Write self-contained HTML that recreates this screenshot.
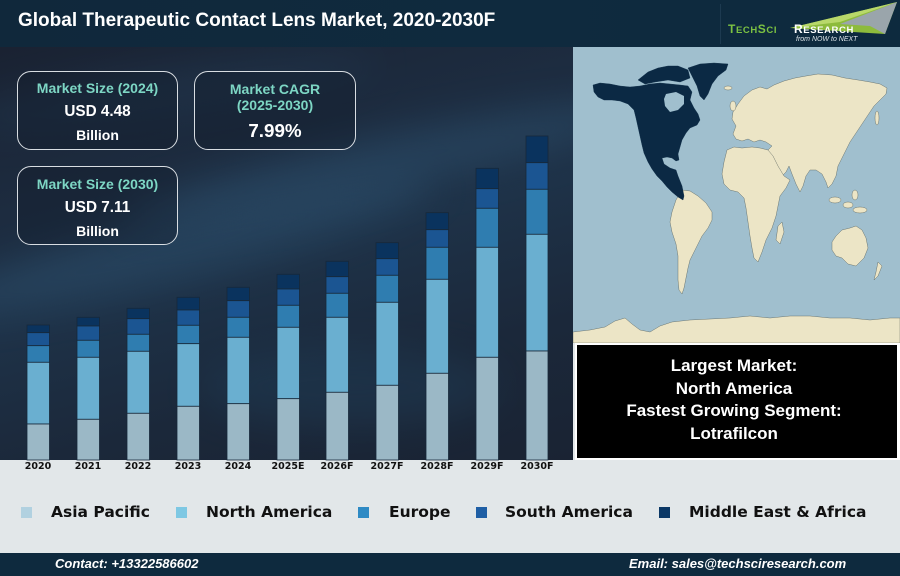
<!DOCTYPE html>
<html><head><meta charset="utf-8"><style>
*{margin:0;padding:0;box-sizing:border-box}
body{width:900px;height:576px;overflow:hidden;position:relative;background:#e2e7e9;font-family:"Liberation Sans",Arial,sans-serif}
.hdr{position:absolute;left:0;top:0;width:900px;height:47px;background:linear-gradient(90deg,#10283b,#0f2a3e 60%,#0d2a3e)}
.title{position:absolute;left:18px;top:10px;color:#fff;font-weight:bold;font-size:19px;white-space:nowrap}
.chart{position:absolute;left:0;top:47px;width:573px;height:413px;overflow:hidden;background:linear-gradient(165deg,#1a2232 0%,#1d2c40 30%,#1e3248 50%,#1b283a 75%,#1a2333 100%)}
.streak{position:absolute;border-radius:50%;filter:blur(18px)}
.box{position:absolute;border:1.5px solid #d8dde2;border-radius:14px;background:rgba(18,26,40,0.35);text-align:center;color:#fff;font-weight:bold}
.teal{color:#7dd6c4;font-size:14px}
.map{position:absolute;left:573px;top:47px;width:327px;height:296px}
.bbox{position:absolute;left:575px;top:343px;width:325px;height:117px;border:2.5px solid #fff;border-right-width:3px;background:#000;color:#fff;font-weight:bold;font-size:17px;text-align:center;line-height:22.7px;padding-top:10px;padding-right:6px}
.ticks{position:absolute;top:461px;font-family:"DejaVu Sans",sans-serif;font-weight:bold;font-size:9.5px;color:#111;width:50px;text-align:center;margin-left:-25px}
.leg{position:absolute;top:503px;font-family:"DejaVu Sans",sans-serif;font-weight:bold;font-size:15.5px;color:#111;white-space:nowrap}
.sq{position:absolute;top:507px;width:11px;height:11px}
.ftr{position:absolute;left:0;top:553px;width:900px;height:23px;background:#0e2a3e}
.ft{position:absolute;top:556px;color:#fff;font-weight:bold;font-style:italic;font-size:13px;white-space:nowrap}
</style></head><body>
<div class="hdr"></div>
<div class="title">Global Therapeutic Contact Lens Market, 2020-2030F</div>
<div style="position:absolute;left:720px;top:4px;width:1px;height:40px;background:#1d3a50"></div>
<svg style="position:absolute;left:720px;top:0" width="180" height="47">
<polygon points="70,28 177,2 165,34" fill="#8dbb3c"/>
<polygon points="70,28 177,2 120,22" fill="#b8d86a"/>
<polygon points="120,24 177,2 165,34 150,26" fill="#9aa5ab"/>
<text x="8" y="33" font-family="Liberation Sans,sans-serif" font-weight="bold" font-size="12" fill="#7cc242" letter-spacing="0.6">T<tspan font-size="9.5">ECH</tspan>S<tspan font-size="9.5">CI</tspan></text>
<text x="74" y="33" font-family="Liberation Sans,sans-serif" font-weight="bold" font-size="12" fill="#fff" letter-spacing="0.6">R<tspan font-size="9.5">ESEARCH</tspan></text>
<text x="76" y="41" font-family="Liberation Sans,sans-serif" font-style="italic" font-size="7" fill="#dfe6ea">from NOW to NEXT</text>
</svg>

<div class="chart">
  <div class="streak" style="left:-80px;top:170px;width:520px;height:60px;background:#2b4d6a;opacity:.6;transform:rotate(-14deg)"></div>
  <div class="streak" style="left:120px;top:90px;width:520px;height:55px;background:#2c4e6b;opacity:.55;transform:rotate(-12deg)"></div>
  <div class="streak" style="left:-40px;top:20px;width:420px;height:50px;background:#24405a;opacity:.35;transform:rotate(-8deg)"></div>
  <div class="streak" style="left:200px;top:300px;width:300px;height:80px;background:#20405a;opacity:.4"></div>
</div>

<div class="box" style="left:17px;top:71px;width:161px;height:79px">
  <div class="teal" style="position:absolute;left:0;right:0;top:8px">Market Size (2024)</div>
  <div style="position:absolute;left:0;right:0;top:31px;font-size:15.3px">USD 4.48</div>
  <div style="position:absolute;left:0;right:0;top:55px;font-size:14px">Billion</div>
</div>
<div class="box" style="left:194px;top:71px;width:162px;height:79px">
  <div class="teal" style="position:absolute;left:0;right:0;top:9px;line-height:16px">Market CAGR<br>(2025-2030)</div>
  <div style="position:absolute;left:0;right:0;top:48px;font-size:18.8px">7.99%</div>
</div>
<div class="box" style="left:17px;top:166px;width:161px;height:79px">
  <div class="teal" style="position:absolute;left:0;right:0;top:9px">Market Size (2030)</div>
  <div style="position:absolute;left:0;right:0;top:32px;font-size:15.3px">USD 7.11</div>
  <div style="position:absolute;left:0;right:0;top:56px;font-size:14px">Billion</div>
</div>

<svg style="position:absolute;left:0;top:0" width="573" height="463">
<g stroke="#17283a" stroke-width="0.8">
<rect x="27" y="325" width="22.5" height="7.7" fill="#0a335e"/><rect x="27" y="332.7" width="22.5" height="13" fill="#1b5592"/><rect x="27" y="345.7" width="22.5" height="16.6" fill="#2f7db0"/><rect x="27" y="362.3" width="22.5" height="61.7" fill="#6aafd0"/><rect x="27" y="424" width="22.5" height="36" fill="#9bb8c6"/>
<rect x="77" y="317.3" width="22.5" height="8.7" fill="#0a335e"/><rect x="77" y="326" width="22.5" height="14.3" fill="#1b5592"/><rect x="77" y="340.3" width="22.5" height="17" fill="#2f7db0"/><rect x="77" y="357.3" width="22.5" height="62" fill="#6aafd0"/><rect x="77" y="419.3" width="22.5" height="40.7" fill="#9bb8c6"/>
<rect x="127" y="308.3" width="22.5" height="10.4" fill="#0a335e"/><rect x="127" y="318.7" width="22.5" height="15.6" fill="#1b5592"/><rect x="127" y="334.3" width="22.5" height="17" fill="#2f7db0"/><rect x="127" y="351.3" width="22.5" height="62" fill="#6aafd0"/><rect x="127" y="413.3" width="22.5" height="46.7" fill="#9bb8c6"/>
<rect x="177" y="297.3" width="22.5" height="12.7" fill="#0a335e"/><rect x="177" y="310" width="22.5" height="15.3" fill="#1b5592"/><rect x="177" y="325.3" width="22.5" height="18.4" fill="#2f7db0"/><rect x="177" y="343.7" width="22.5" height="62.6" fill="#6aafd0"/><rect x="177" y="406.3" width="22.5" height="53.7" fill="#9bb8c6"/>
<rect x="227" y="287.3" width="22.5" height="13.4" fill="#0a335e"/><rect x="227" y="300.7" width="22.5" height="16.6" fill="#1b5592"/><rect x="227" y="317.3" width="22.5" height="20" fill="#2f7db0"/><rect x="227" y="337.3" width="22.5" height="66.4" fill="#6aafd0"/><rect x="227" y="403.7" width="22.5" height="56.3" fill="#9bb8c6"/>
<rect x="277" y="274.3" width="22.5" height="14.7" fill="#0a335e"/><rect x="277" y="289" width="22.5" height="16.3" fill="#1b5592"/><rect x="277" y="305.3" width="22.5" height="22" fill="#2f7db0"/><rect x="277" y="327.3" width="22.5" height="71.4" fill="#6aafd0"/><rect x="277" y="398.7" width="22.5" height="61.3" fill="#9bb8c6"/>
<rect x="326" y="261.3" width="22.5" height="15.4" fill="#0a335e"/><rect x="326" y="276.7" width="22.5" height="16.6" fill="#1b5592"/><rect x="326" y="293.3" width="22.5" height="24" fill="#2f7db0"/><rect x="326" y="317.3" width="22.5" height="75" fill="#6aafd0"/><rect x="326" y="392.3" width="22.5" height="67.7" fill="#9bb8c6"/>
<rect x="376" y="242.7" width="22.5" height="16" fill="#0a335e"/><rect x="376" y="258.7" width="22.5" height="16.6" fill="#1b5592"/><rect x="376" y="275.3" width="22.5" height="27" fill="#2f7db0"/><rect x="376" y="302.3" width="22.5" height="83" fill="#6aafd0"/><rect x="376" y="385.3" width="22.5" height="74.7" fill="#9bb8c6"/>
<rect x="426" y="212.7" width="22.5" height="17" fill="#0a335e"/><rect x="426" y="229.7" width="22.5" height="17.6" fill="#1b5592"/><rect x="426" y="247.3" width="22.5" height="32" fill="#2f7db0"/><rect x="426" y="279.3" width="22.5" height="94" fill="#6aafd0"/><rect x="426" y="373.3" width="22.5" height="86.7" fill="#9bb8c6"/>
<rect x="476" y="168.3" width="22.5" height="20.4" fill="#0a335e"/><rect x="476" y="188.7" width="22.5" height="19.6" fill="#1b5592"/><rect x="476" y="208.3" width="22.5" height="39" fill="#2f7db0"/><rect x="476" y="247.3" width="22.5" height="110" fill="#6aafd0"/><rect x="476" y="357.3" width="22.5" height="102.7" fill="#9bb8c6"/>
<rect x="526" y="136" width="22" height="26.7" fill="#0a335e"/><rect x="526" y="162.7" width="22" height="26.6" fill="#1b5592"/><rect x="526" y="189.3" width="22" height="45" fill="#2f7db0"/><rect x="526" y="234.3" width="22" height="116.7" fill="#6aafd0"/><rect x="526" y="351" width="22" height="109" fill="#9bb8c6"/>
</g>
<g stroke="#9aa4aa" stroke-width="0.8">
<line x1="38" y1="460" x2="38" y2="462"/><line x1="88" y1="460" x2="88" y2="462"/><line x1="138" y1="460" x2="138" y2="462"/><line x1="188" y1="460" x2="188" y2="462"/><line x1="238" y1="460" x2="238" y2="462"/><line x1="288" y1="460" x2="288" y2="462"/><line x1="337" y1="460" x2="337" y2="462"/><line x1="387" y1="460" x2="387" y2="462"/><line x1="437" y1="460" x2="437" y2="462"/><line x1="487" y1="460" x2="487" y2="462"/><line x1="537" y1="460" x2="537" y2="462"/>
</g>
</svg>

<svg class="map" viewBox="573 47 327 296" width="327" height="296">
<rect x="573" y="47" width="327" height="296" fill="#a0bfce"/>
<g fill="#ece5c6" stroke="#55605a" stroke-width="0.4">
<polygon points="733,112 738,104 744,96 752,90 760,87 767,89 774,85 784,81 795,78 806,76 818,74 832,75 845,78 858,80 870,82 880,84 887,88 886,94 880,100 874,106 870,112 866,118 862,124 858,130 854,136 850,142 846,150 842,158 838,166 836,176 832,184 828,188 826,182 822,174 816,170 810,170 806,176 803,186 800,192 796,184 792,174 789,166 786,172 780,178 774,174 770,166 766,158 768,150 772,146 766,142 760,140 754,142 748,139 742,141 736,139 733,134 736,126 732,119"/>
<polygon points="727,150 734,147 742,148 752,147 760,148 768,150 773,156 778,166 784,176 790,180 786,188 780,196 778,206 776,216 772,228 766,240 762,252 758,262 754,258 752,248 750,236 748,222 746,208 744,198 738,192 730,190 724,184 722,174 724,162"/>
<polygon points="778,226 782,222 784,232 780,244 776,240"/>
<polygon points="682,190 690,191 698,196 706,203 712,212 712,220 708,228 702,236 698,244 694,252 690,260 688,268 686,278 684,288 682,294 679,290 678,280 678,268 678,256 676,244 672,232 670,222 672,212 676,200"/>
<polygon points="836,236 842,230 850,228 856,226 862,230 866,238 868,248 864,258 856,266 848,264 842,258 836,256 832,250 832,242"/>
<polygon points="878,262 882,266 878,276 874,280 876,272"/>
<ellipse cx="835" cy="200" rx="6" ry="3"/><ellipse cx="848" cy="205" rx="5" ry="3"/><ellipse cx="860" cy="210" rx="7" ry="3"/><ellipse cx="855" cy="195" rx="3" ry="5"/>
<ellipse cx="733" cy="106" rx="3" ry="5"/><ellipse cx="728" cy="88" rx="4" ry="2"/><ellipse cx="877" cy="118" rx="2" ry="7"/>
<polygon points="573,332 590,330 605,327 615,321 625,318 632,324 640,330 650,332 660,326 672,322 690,320 710,319 730,318 750,316 770,318 790,316 810,316 830,318 850,318 870,320 890,318 900,318 900,343 573,343"/>
</g>
<g fill="#0b2944" stroke="#0b2944" stroke-width="0.4">
<polygon points="593,85 600,83 610,84 620,86 630,87 640,86 650,84 660,83 670,84 680,85 688,86 692,92 690,100 694,108 698,114 700,120 697,125 690,128 686,133 682,140 680,147 678,154 679,160 676,161 672,158 667,157 662,158 664,164 670,168 676,170 678,176 682,186 684,196 683,200 678,197 672,192 667,187 662,181 657,176 652,169 648,162 644,153 642,145 640,136 638,127 636,118 634,110 628,104 620,101 612,100 604,100 598,97 594,92"/>
<polygon points="638,80 648,72 658,68 668,66 678,66 688,70 690,78 680,82 668,80 655,82 645,84"/>
<polygon points="688,68 700,64 714,63 728,64 726,70 718,76 712,84 708,94 704,100 700,96 697,86 692,76"/>
</g>
<polygon points="666,94 676,92 684,96 684,104 678,110 670,112 665,106 664,99" fill="#a0bfce"/>
</svg>

<div class="bbox">Largest Market:<br>North America<br>Fastest Growing Segment:<br>Lotrafilcon</div>

<div class="ticks" style="left:38px">2020</div>
<div class="ticks" style="left:88px">2021</div>
<div class="ticks" style="left:138px">2022</div>
<div class="ticks" style="left:188px">2023</div>
<div class="ticks" style="left:238px">2024</div>
<div class="ticks" style="left:288px">2025E</div>
<div class="ticks" style="left:337px">2026F</div>
<div class="ticks" style="left:387px">2027F</div>
<div class="ticks" style="left:437px">2028F</div>
<div class="ticks" style="left:487px">2029F</div>
<div class="ticks" style="left:537px">2030F</div>

<div class="sq" style="left:21px;background:#b1d1e0"></div><div class="leg" style="left:51px">Asia Pacific</div>
<div class="sq" style="left:176px;background:#7ec8e3"></div><div class="leg" style="left:206px">North America</div>
<div class="sq" style="left:358px;background:#2e8ac4"></div><div class="leg" style="left:389px">Europe</div>
<div class="sq" style="left:476px;background:#1f5fa5"></div><div class="leg" style="left:505px">South America</div>
<div class="sq" style="left:659px;background:#0b3866"></div><div class="leg" style="left:689px">Middle East &amp; Africa</div>

<div class="ftr"></div>
<div class="ft" style="left:55px">Contact: +13322586602</div>
<div class="ft" style="left:629px">Email: sales@techsciresearch.com</div>
</body></html>
